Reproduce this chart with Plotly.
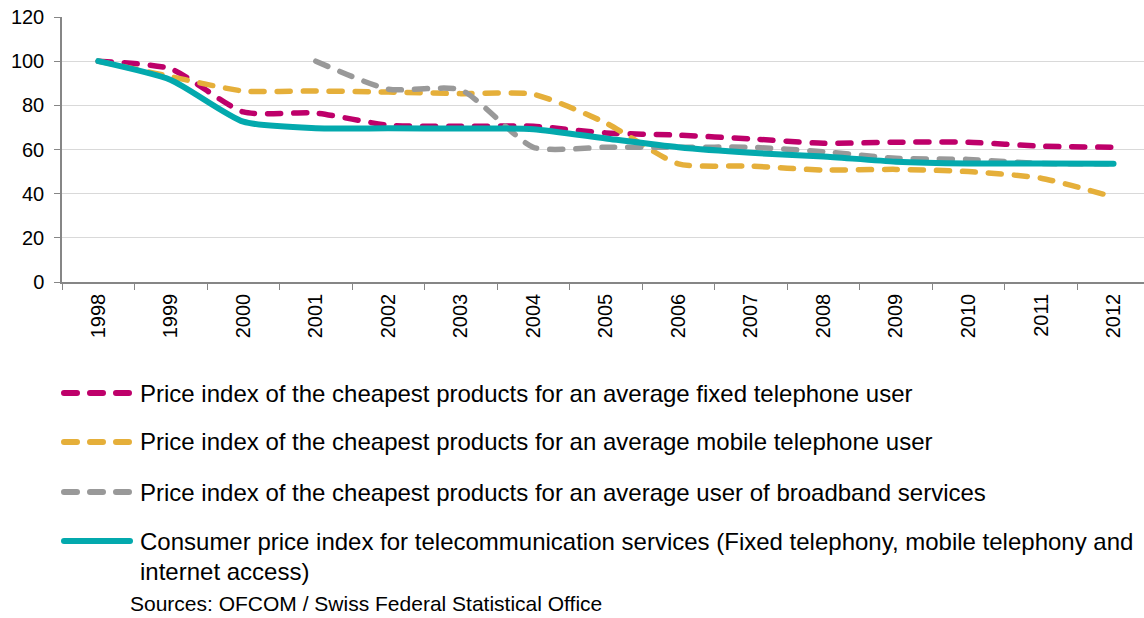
import plotly.graph_objects as go

years = ["1998", "1999", "2000", "2001", "2002", "2003", "2004", "2005",
         "2006", "2007", "2008", "2009", "2010", "2011", "2012"]

fixed_user = [100, 96.5, 77, 76.5, 71, 70.5, 70.5, 67.5, 66.5, 64.8, 62.8, 63.3, 63.3, 61.5, 61]
mobile_user = [100, 93, 86.5, 86.5, 86, 85.3, 85, 72, 53.5, 52.5, 50.7, 51, 50, 47, 38.5]
broadband_user = [None, None, None, 100, 87.3, 87, 61, 61, 61, 61, 59, 56, 55.5, 53.7, 53.5]
cpi_telecom = [100, 91.5, 72.6, 69.6, 69.6, 69.5, 69.2, 65, 61, 58.5, 56.8, 54.5, 53.7, 53.7, 53.5]

series_names = [
    "Price index of the cheapest products for an average fixed telephone user",
    "Price index of the cheapest products for an average mobile telephone user",
    "Price index of the cheapest products for an average user of broadband services",
    "Consumer price index for telecommunication services (Fixed telephony, mobile telephony and",
]
cpi_name_cont = "internet access)"
source_text = "Sources: OFCOM / Swiss Federal Statistical Office"

colors = ["#BE006A", "#E5AF3A", "#999999", "#03A9AD"]
dash_pattern = "13px,13px"
FONT = "Liberation Sans, Arial, sans-serif"

W, H = 1144, 618
M_L, M_R, M_T, M_B = 62, 0, 17, 336
PW, PH = W - M_L - M_R, H - M_T - M_B


def px_x(x):
    return (x - M_L) / PW


def px_y(y):
    return (H - M_B - y) / PH


fig = go.Figure()
for vals, name, col, dsh in zip(
    [fixed_user, mobile_user, broadband_user, cpi_telecom],
    series_names, colors, [dash_pattern, dash_pattern, dash_pattern, "solid"],
):
    fig.add_trace(go.Scatter(
        x=years, y=vals, mode="lines", name=name,
        line=dict(color=col, width=5.5 if dsh != "solid" else 6, dash=dsh,
                  shape="spline", smoothing=0.6),
        connectgaps=False, showlegend=False, hoverinfo="skip",
    ))

# legend drawn below the plot: line sample + label
legend_rows = [393, 442, 492, 541]
shapes = []
annotations = []
for row_y, name, col, i in zip(legend_rows, series_names, colors, range(4)):
    shapes.append(dict(
        type="line", xref="paper", yref="paper",
        x0=px_x(64), x1=px_x(130), y0=px_y(row_y), y1=px_y(row_y),
        line=dict(color=col, width=6, dash="solid" if i == 3 else dash_pattern),
    ))
    annotations.append(dict(
        xref="paper", yref="paper", x=px_x(138), y=px_y(row_y),
        xanchor="left", yanchor="middle", text=name, showarrow=False,
        font=dict(family=FONT, size=24, color="#000000"),
    ))
annotations.append(dict(
    xref="paper", yref="paper", x=px_x(138), y=px_y(571),
    xanchor="left", yanchor="middle", text=cpi_name_cont, showarrow=False,
    font=dict(family=FONT, size=24, color="#000000"),
))
annotations.append(dict(
    xref="paper", yref="paper", x=px_x(129), y=px_y(603),
    xanchor="left", yanchor="middle", text=source_text, showarrow=False,
    borderpad=0, font=dict(family=FONT, size=21, color="#000000"),
))

fig.update_layout(
    width=W, height=H,
    margin=dict(l=M_L, r=M_R, t=M_T, b=M_B, pad=0),
    paper_bgcolor="white", plot_bgcolor="white",
    font=dict(family=FONT, size=20, color="#000000"),
    shapes=shapes, annotations=annotations,
    xaxis=dict(
        type="category", range=[-0.5, 14.42], tickson="boundaries",
        tickangle=-90, ticks="outside", ticklen=6, tickcolor="#868686",
        showline=True, linecolor="#868686", linewidth=1.5,
        showgrid=False, zeroline=False, fixedrange=True,
        tickfont=dict(family=FONT, size=20, color="#000000"),
        ticklabelstandoff=2,
    ),
    yaxis=dict(
        range=[0, 120], dtick=20, tick0=0,
        ticks="outside", ticklen=6, tickcolor="#868686",
        showline=True, linecolor="#868686", linewidth=1.5,
        showgrid=True, gridcolor="#D9D9D9", gridwidth=1.2,
        zeroline=False, fixedrange=True,
        tickfont=dict(family=FONT, size=20, color="#000000"),
        ticklabelstandoff=6,
    ),
)

round_caps = (
    "document.querySelectorAll('.scatterlayer path.js-line, .shapelayer path')"
    ".forEach(function(p){p.style.strokeLinecap='round';p.style.strokeLinejoin='round';});"
)
fig.write_html("out.html", post_script=round_caps)
